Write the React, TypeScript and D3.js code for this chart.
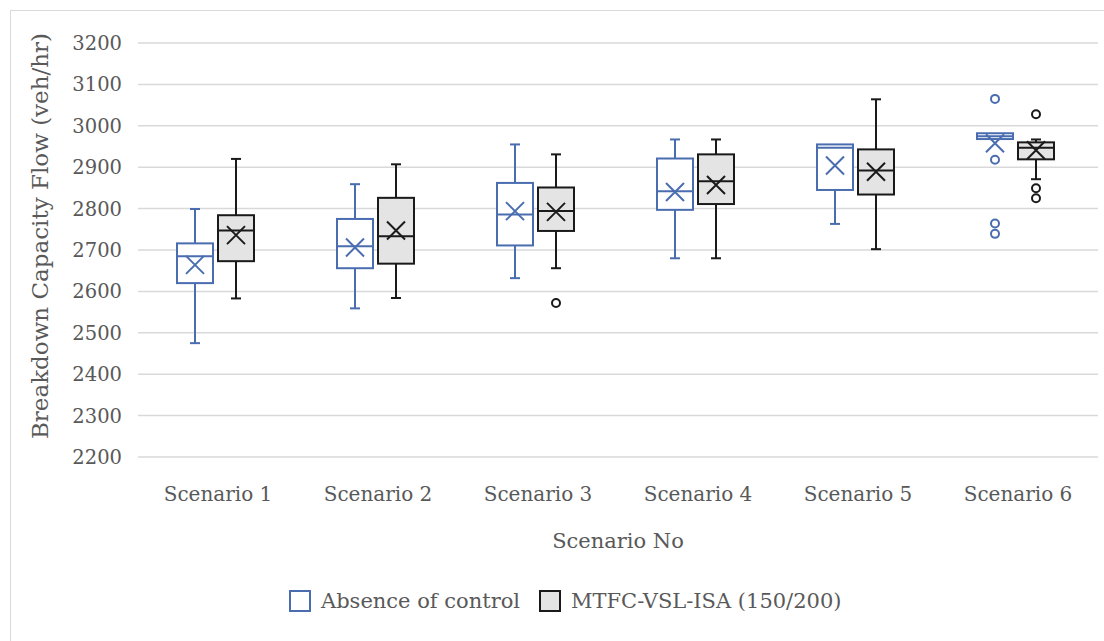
import { useEffect, useRef } from "react";
import * as d3 from "d3";

const categories = ["Scenario 1", "Scenario 2", "Scenario 3", "Scenario 4", "Scenario 5", "Scenario 6"];
const seriesNames = ["Absence of control", "MTFC-VSL-ISA (150/200)"];
const yTicks = [2200, 2300, 2400, 2500, 2600, 2700, 2800, 2900, 3000, 3100, 3200];

// [min whisker, q1, median, q3, max whisker]
const absenceBoxes = [
  [2475, 2620, 2685, 2716, 2799],
  [2559, 2656, 2709, 2775, 2859],
  [2632, 2711, 2786, 2862, 2955],
  [2680, 2797, 2842, 2921, 2967],
  [2763, 2845, 2947, 2955, 2955],
  [2968, 2968, 2975, 2982, 2982],
];
const absenceMeans = [2664, 2706, 2794, 2840, 2904, 2958];
const absenceOutliers = [[], [], [], [], [], [3065, 2918, 2764, 2739]];

const mtfcBoxes = [
  [2583, 2673, 2747, 2784, 2920],
  [2584, 2667, 2733, 2826, 2907],
  [2656, 2746, 2794, 2851, 2931],
  [2680, 2811, 2866, 2931, 2967],
  [2702, 2834, 2892, 2943, 3064],
  [2871, 2919, 2947, 2960, 2967],
];
const mtfcMeans = [2736, 2747, 2792, 2857, 2889, 2941];
const mtfcOutliers = [[], [], [2572], [], [], [3028, 2849, 2825]];

const font = "'DejaVu Serif', serif";
const textColor = "#595959";

export default function App() {
  const svgRef = useRef<SVGSVGElement>(null);

  useEffect(() => {
    document.body.style.margin = "0";
    if (!svgRef.current) return;
    const width = 1104;
    const height = 641;
    const margin = { top: 43, right: 6, bottom: 184, left: 138 };
    const innerHeight = height - margin.top - margin.bottom;

    const svg = d3.select(svgRef.current);
    svg.selectAll("*").remove();
    svg.attr("width", width).attr("height", height);

    svg
      .append("rect")
      .attr("x", 10.5)
      .attr("y", 10.5)
      .attr("width", width)
      .attr("height", height)
      .attr("fill", "white")
      .attr("stroke", "#d9d9d9");

    const x = d3.scaleBand().domain(categories).range([margin.left, width - margin.right]);
    const y = d3.scaleLinear().domain([2200, 3200]).range([margin.top + innerHeight, margin.top]);

    const g = svg.append("g");

    g.selectAll("line.grid")
      .data(yTicks)
      .join("line")
      .attr("class", "grid")
      .attr("x1", margin.left)
      .attr("x2", width - margin.right)
      .attr("y1", (d) => y(d))
      .attr("y2", (d) => y(d))
      .attr("stroke", "#d9d9d9")
      .attr("stroke-width", 1.5);

    g.selectAll("text.ytick")
      .data(yTicks)
      .join("text")
      .attr("class", "ytick")
      .attr("x", margin.left - 16)
      .attr("y", (d) => y(d))
      .attr("dy", "0.36em")
      .attr("text-anchor", "end")
      .attr("fill", textColor)
      .style("font-family", font)
      .style("font-size", "19.5px")
      .text((d) => d);

    g.selectAll("text.xtick")
      .data(categories)
      .join("text")
      .attr("class", "xtick")
      .attr("x", (d) => (x(d) ?? 0) + x.bandwidth() / 2)
      .attr("y", 501)
      .attr("text-anchor", "middle")
      .attr("fill", textColor)
      .style("font-family", font)
      .style("font-size", "20px")
      .text((d) => d);

    svg
      .append("text")
      .attr("transform", `translate(48,236) rotate(-90)`)
      .attr("text-anchor", "middle")
      .attr("fill", textColor)
      .style("font-family", font)
      .style("font-size", "23px")
      .text("Breakdown Capacity Flow (veh/hr)");

    svg
      .append("text")
      .attr("x", margin.left + (width - margin.right - margin.left) / 2)
      .attr("y", 548)
      .attr("text-anchor", "middle")
      .attr("fill", textColor)
      .style("font-family", font)
      .style("font-size", "21px")
      .text("Scenario No");

    const series = [
      { boxes: absenceBoxes, means: absenceMeans, outliers: absenceOutliers, stroke: "#4a6db0", fill: "white", offset: -23 },
      { boxes: mtfcBoxes, means: mtfcMeans, outliers: mtfcOutliers, stroke: "#1a1a1a", fill: "#e4e4e4", offset: 18 },
    ];
    const boxW = 36;
    const capW = 10;
    const xSize = 9;

    series.forEach((s) => {
      categories.forEach((c, i) => {
        const cx = (x(c) ?? 0) + x.bandwidth() / 2 + s.offset;
        const [lo, q1, med, q3, hi] = s.boxes[i];
        const sg = g.append("g").attr("stroke", s.stroke).attr("stroke-width", 2).attr("fill", "none");
        if (hi > q3) {
          sg.append("line").attr("x1", cx).attr("x2", cx).attr("y1", y(q3)).attr("y2", y(hi));
          sg.append("line").attr("x1", cx - capW / 2).attr("x2", cx + capW / 2).attr("y1", y(hi)).attr("y2", y(hi));
        }
        if (lo < q1) {
          sg.append("line").attr("x1", cx).attr("x2", cx).attr("y1", y(q1)).attr("y2", y(lo));
          sg.append("line").attr("x1", cx - capW / 2).attr("x2", cx + capW / 2).attr("y1", y(lo)).attr("y2", y(lo));
        }
        sg.append("rect")
          .attr("x", cx - boxW / 2)
          .attr("y", y(q3))
          .attr("width", boxW)
          .attr("height", y(q1) - y(q3))
          .attr("fill", s.fill);
        sg.append("line").attr("x1", cx - boxW / 2).attr("x2", cx + boxW / 2).attr("y1", y(med)).attr("y2", y(med));
        const my = y(s.means[i]);
        sg.append("path").attr(
          "d",
          `M${cx - xSize},${my - xSize}L${cx + xSize},${my + xSize}M${cx - xSize},${my + xSize}L${cx + xSize},${my - xSize}`
        );
        s.outliers[i].forEach((o) => {
          sg.append("circle").attr("cx", cx).attr("cy", y(o)).attr("r", 4).attr("fill", "white");
        });
      });
    });

    // legend
    const legend = svg.append("g");
    const items = [
      { label: seriesNames[0], stroke: "#4a6db0", fill: "white", x: 290 },
      { label: seriesNames[1], stroke: "#1a1a1a", fill: "#e4e4e4", x: 540 },
    ];
    items.forEach((it) => {
      legend
        .append("rect")
        .attr("x", it.x)
        .attr("y", 591)
        .attr("width", 20)
        .attr("height", 20)
        .attr("fill", it.fill)
        .attr("stroke", it.stroke)
        .attr("stroke-width", 2);
      legend
        .append("text")
        .attr("x", it.x + 31)
        .attr("y", 601)
        .attr("dy", "0.35em")
        .attr("fill", textColor)
        .style("font-family", font)
        .style("font-size", "21px")
        .text(it.label);
    });
  }, []);

  return <svg ref={svgRef} style={{ display: "block" }} />;
}
